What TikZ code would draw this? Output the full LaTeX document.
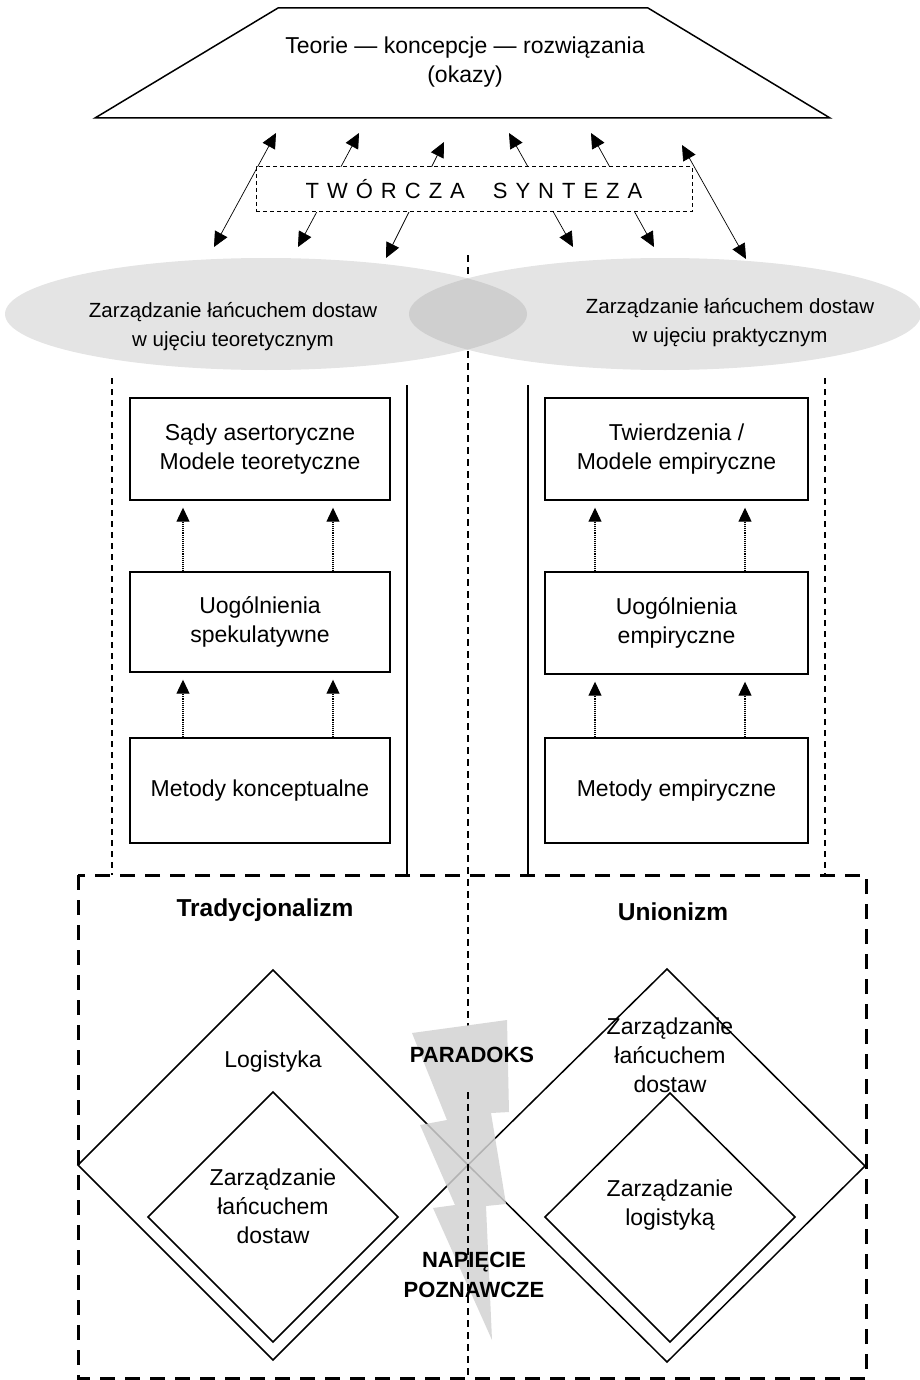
\documentclass[tikz,border=0pt]{standalone}
\usepackage{fontspec}
\setmainfont{Liberation Sans}
\usetikzlibrary{arrows.meta,calc}
\definecolor{ellgray}{HTML}{E4E4E4}
\definecolor{lensgray}{HTML}{CFCFCF}
\definecolor{boltgray}{HTML}{D2D2D2}
\begin{document}
\begin{tikzpicture}[x=1pt,y=-1pt,
  txt/.style={align=center,inner sep=0pt,font=\fontsize{23}{29}\selectfont},
  elltxt/.style={align=center,inner sep=0pt,font=\fontsize{20.5}{29}\selectfont},
  boldtxt/.style={align=center,inner sep=0pt,font=\fontsize{22}{30}\selectfont\bfseries},
  titletxt/.style={align=center,inner sep=0pt,font=\fontsize{24.5}{30}\selectfont\bfseries},
  stagebox/.style={draw,line width=1.4pt,align=center,inner sep=0pt,font=\fontsize{23}{28.5}\selectfont},
  synarr/.style={line width=0.7pt,{Triangle[length=15pt,width=14pt]}-{Triangle[length=15pt,width=14pt]}},
  dotarr/.style={line width=1.1pt,densely dotted,-{Triangle[length=14pt,width=13pt]}},
  thindash/.style={line width=1.2pt,dash pattern=on 6pt off 5pt},
  centerdash/.style={line width=1.3pt,dash pattern=on 7pt off 5pt},
  thickdash/.style={line width=3pt,dash pattern=on 15pt off 10pt},
  solidline/.style={line width=1.5pt},
  shapeline/.style={line width=1.5pt}
]
\useasboundingbox (0,0) rectangle (920,1380);

% center dashed line (behind)
\coordinate (ctop) at (468,255);
\coordinate (cbolt) at (468,1026);
\coordinate (cmid) at (468,1092);
\coordinate (cbot) at (468,1380);
\draw[centerdash] (ctop) -- (cbolt);

% ellipses
\fill[ellgray] (266,314) ellipse [x radius=261pt, y radius=56pt];
\fill[ellgray] (665,314) ellipse [x radius=256pt, y radius=56pt];
\begin{scope}
  \clip (266,314) ellipse [x radius=261pt, y radius=56pt];
  \fill[lensgray] (665,314) ellipse [x radius=256pt, y radius=56pt];
\end{scope}
\node[elltxt] (ellL) at (233,327) {Zarządzanie łańcuchem dostaw\\w ujęciu teoretycznym};
\node[elltxt] (ellR) at (730,323) {Zarządzanie łańcuchem dostaw\\w ujęciu praktycznym};

% trapezoid
\draw[shapeline] (95,118) -- (278,8) -- (648,8) -- (830,118) -- cycle;
\node[txt] (theory) at (465,62) {Teorie — koncepcje — rozwiązania\\(okazy)};

% synthesis arrows
\coordinate (a1t) at (276,133); \coordinate (a1b) at (214,247);
\coordinate (a2t) at (359,133); \coordinate (a2b) at (298,247);
\coordinate (a3t) at (444,142); \coordinate (a3b) at (386,258);
\coordinate (a4t) at (509,133); \coordinate (a4b) at (573,247);
\coordinate (a5t) at (591,133); \coordinate (a5b) at (654,247);
\coordinate (a6t) at (682,145); \coordinate (a6b) at (746,259);
\foreach \i in {1,...,6}{\draw[synarr] (a\i t) -- (a\i b);}

\node[draw,fill=white,line width=1pt,dash pattern=on 4pt off 3pt,minimum width=436pt,minimum height=45pt,inner sep=0pt,
  font=\fontsize{22}{26}\selectfont] (syn) at (474,189.5)
  {T\hspace{8pt}W\hspace{8pt}Ó\hspace{8pt}R\hspace{8pt}C\hspace{8pt}Z\hspace{8pt}A\hspace{28pt}S\hspace{8pt}Y\hspace{8pt}N\hspace{8pt}T\hspace{8pt}E\hspace{8pt}Z\hspace{8pt}A};

% side lines
\draw[thindash] (112,378) -- (112,875);
\draw[thindash] (825,378) -- (825,875);
\draw[solidline] (407,385) -- (407,875);
\draw[solidline] (528,385) -- (528,875);

% left column boxes
\node[stagebox,minimum width=260pt,minimum height=102pt] (l1) at (260,449) {Sądy asertoryczne\\Modele teoretyczne};
\node[stagebox,minimum width=260pt,minimum height=100pt] (l2) at (260,622) {Uogólnienia\\spekulatywne};
\node[stagebox,minimum width=260pt,minimum height=105pt] (l3) at (260,790.5) {Metody konceptualne};
% right column boxes
\node[stagebox,minimum width=263pt,minimum height=102pt] (r1) at (676.5,449) {Twierdzenia /\\Modele empiryczne};
\node[stagebox,minimum width=263pt,minimum height=102pt] (r2) at (676.5,623) {Uogólnienia\\empiryczne};
\node[stagebox,minimum width=263pt,minimum height=105pt] (r3) at (676.5,790.5) {Metody empiryczne};

% dotted arrows
\draw[dotarr] ([xshift=-77pt]l2.north) -- ([xshift=-77pt,yshift=-7pt]l1.south);
\draw[dotarr] ([xshift=73pt]l2.north) -- ([xshift=73pt,yshift=-7pt]l1.south);
\draw[dotarr] ([xshift=-77pt]l3.north) -- ([xshift=-77pt,yshift=-7pt]l2.south);
\draw[dotarr] ([xshift=73pt]l3.north) -- ([xshift=73pt,yshift=-7pt]l2.south);
\draw[dotarr] ([xshift=-81.5pt]r2.north) -- ([xshift=-81.5pt,yshift=-7pt]r1.south);
\draw[dotarr] ([xshift=68.5pt]r2.north) -- ([xshift=68.5pt,yshift=-7pt]r1.south);
\draw[dotarr] ([xshift=-81.5pt]r3.north) -- ([xshift=-81.5pt,yshift=-7pt]r2.south);
\draw[dotarr] ([xshift=68.5pt]r3.north) -- ([xshift=68.5pt,yshift=-7pt]r2.south);

% thick dashed frame
\draw[thickdash] (78,875) rectangle (866,1378);

\node[titletxt] (trad) at (265,910) {Tradycjonalizm};
\node[titletxt] (union) at (673,912) {Unionizm};

% diamonds
\draw[shapeline] (273,970) -- (468,1165) -- (273,1360) -- (78,1165) -- cycle;
\draw[shapeline] (273,1092) -- (398,1217) -- (273,1342) -- (148,1217) -- cycle;
\draw[shapeline] (667,969) -- (865,1166) -- (667,1362) -- (468,1165) -- cycle;
\draw[shapeline] (670,1093) -- (795,1217) -- (670,1342) -- (545,1217) -- cycle;

% lightning bolt
\fill[boltgray,fill opacity=0.85] (412,1033) -- (507,1020) -- (509,1112) -- (491,1113) -- (506,1204) -- (486,1206)
  -- (492,1340) -- (433,1208) -- (455,1205) -- (420,1125) -- (447,1120) -- cycle;
\draw[centerdash] (cmid) -- (cbot);

\node[boldtxt] (para) at (472,1055) {PARADOKS};
\node[boldtxt] (napi) at (474,1275) {NAPIĘCIE\\POZNAWCZE};

% diamond texts
\node[txt] (logi) at (273,1062) {Logistyka};
\node[txt] (zlcdL) at (273,1206) {Zarządzanie\\łańcuchem\\dostaw};
\node[txt] (zlcdR) at (670,1055) {Zarządzanie\\łańcuchem\\dostaw};
\node[txt] (zlog) at (670,1205) {Zarządzanie\\logistyką};
\end{tikzpicture}
\end{document}
